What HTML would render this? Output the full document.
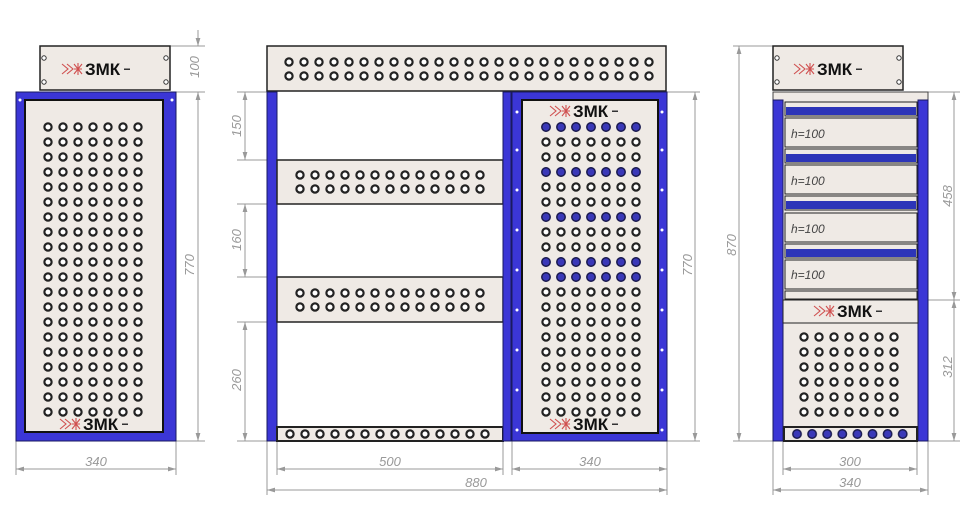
<!DOCTYPE html>
<html><head><meta charset="utf-8"><style>html,body{margin:0;padding:0;background:#fff}svg{display:block}</style></head><body>
<svg width="970" height="528" viewBox="0 0 970 528" xmlns="http://www.w3.org/2000/svg" font-family="Liberation Sans, sans-serif">
<defs>
<marker id="ar" viewBox="0 0 10 6" refX="10" refY="3" markerWidth="8" markerHeight="5" orient="auto-start-reverse" markerUnits="userSpaceOnUse"><path d="M0,0 L10,3 L0,6 z" fill="#999"/></marker>
<g id="hole"><circle r="3.6" fill="#fff" stroke="#222" stroke-width="2.2"/></g>
<g id="bhole"><circle r="4.2" fill="#3a38b8" stroke="#1a1a50" stroke-width="1.5"/></g>
<pattern id="pL" x="40.5" y="119.5" width="15" height="15" patternUnits="userSpaceOnUse"><use href="#hole" x="7.5" y="7.5"/></pattern>
<pattern id="pR" x="538.5" y="119.5" width="15" height="15" patternUnits="userSpaceOnUse"><use href="#hole" x="7.5" y="7.5"/></pattern>
<pattern id="pRb" x="538.5" y="119.5" width="15" height="15" patternUnits="userSpaceOnUse"><use href="#bhole" x="7.5" y="7.5"/></pattern>
<pattern id="pC" x="796.5" y="329.5" width="15" height="15" patternUnits="userSpaceOnUse"><use href="#hole" x="7.5" y="7.5"/></pattern>
<pattern id="pT" x="281.5" y="54.5" width="15" height="14" patternUnits="userSpaceOnUse"><use href="#hole" x="7.5" y="7.5"/></pattern>
<pattern id="pS" x="292.5" y="167.5" width="15" height="14" patternUnits="userSpaceOnUse"><use href="#hole" x="7.5" y="7.5"/></pattern>
<pattern id="pS2" x="292.5" y="285.5" width="15" height="14" patternUnits="userSpaceOnUse"><use href="#hole" x="7.5" y="7.5"/></pattern>
<pattern id="pB" x="282.5" y="426.5" width="15" height="15" patternUnits="userSpaceOnUse"><use href="#hole" x="7.5" y="7.5"/></pattern>
<pattern id="pBb" x="789.5" y="426.5" width="15.1" height="15" patternUnits="userSpaceOnUse"><use href="#bhole" x="7.5" y="7.5"/></pattern>
<g id="logo">
<path d="M-28,-5 L-22,0 L-28,5 M-23,-5 L-17,0 L-23,5 M-16,-5 L-8,5 M-16,5 L-8,-5 M-16,0 L-8,0 M-12,-6 L-12,6" stroke="#d05050" stroke-width="1.1" fill="none"/>
<text x="-5" y="6" font-size="17" font-weight="bold" fill="#111">ЗМК</text>
<rect x="34" y="-0.5" width="6" height="1.5" fill="#333"/>
</g>
</defs>
<g stroke="#999" stroke-width="1" fill="none">
<line x1="170" y1="46" x2="205" y2="46"/><line x1="176" y1="92" x2="205" y2="92"/><line x1="176" y1="441" x2="205" y2="441"/>
<line x1="198" y1="30" x2="198" y2="46" marker-end="url(#ar)"/><line x1="198" y1="92" x2="198" y2="441" marker-start="url(#ar)" marker-end="url(#ar)"/>
<line x1="16" y1="441" x2="16" y2="475"/><line x1="176" y1="441" x2="176" y2="475"/><line x1="16" y1="469" x2="176" y2="469" marker-start="url(#ar)" marker-end="url(#ar)"/>
<line x1="237" y1="92" x2="267" y2="92"/><line x1="237" y1="160" x2="277" y2="160"/><line x1="237" y1="204" x2="277" y2="204"/><line x1="237" y1="277" x2="277" y2="277"/><line x1="237" y1="322" x2="277" y2="322"/><line x1="237" y1="441" x2="267" y2="441"/>
<line x1="245" y1="92" x2="245" y2="160" marker-start="url(#ar)" marker-end="url(#ar)"/><line x1="245" y1="204" x2="245" y2="277" marker-start="url(#ar)" marker-end="url(#ar)"/><line x1="245" y1="322" x2="245" y2="441" marker-start="url(#ar)" marker-end="url(#ar)"/>
<line x1="277" y1="441" x2="277" y2="475"/><line x1="503" y1="441" x2="503" y2="475"/><line x1="277" y1="469" x2="503" y2="469" marker-start="url(#ar)" marker-end="url(#ar)"/>
<line x1="512" y1="441" x2="512" y2="475"/><line x1="667" y1="441" x2="667" y2="495"/><line x1="512" y1="469" x2="667" y2="469" marker-start="url(#ar)" marker-end="url(#ar)"/>
<line x1="267" y1="441" x2="267" y2="495"/><line x1="267" y1="490" x2="667" y2="490" marker-start="url(#ar)" marker-end="url(#ar)"/>
<line x1="667" y1="92" x2="700" y2="92"/><line x1="667" y1="441" x2="700" y2="441"/><line x1="695" y1="92" x2="695" y2="441" marker-start="url(#ar)" marker-end="url(#ar)"/>
<line x1="733" y1="46" x2="773" y2="46"/><line x1="733" y1="441" x2="773" y2="441"/><line x1="739" y1="46" x2="739" y2="441" marker-start="url(#ar)" marker-end="url(#ar)"/>
<line x1="928" y1="92" x2="960" y2="92"/><line x1="918" y1="300" x2="960" y2="300"/><line x1="928" y1="441" x2="960" y2="441"/>
<line x1="954" y1="92" x2="954" y2="300" marker-start="url(#ar)" marker-end="url(#ar)"/><line x1="954" y1="300" x2="954" y2="441" marker-start="url(#ar)" marker-end="url(#ar)"/>
<line x1="783" y1="441" x2="783" y2="475"/><line x1="917" y1="441" x2="917" y2="475"/><line x1="783" y1="469" x2="917" y2="469" marker-start="url(#ar)" marker-end="url(#ar)"/>
<line x1="773" y1="441" x2="773" y2="495"/><line x1="928" y1="441" x2="928" y2="495"/><line x1="773" y1="490" x2="928" y2="490" marker-start="url(#ar)" marker-end="url(#ar)"/>
</g>
<g fill="#999" font-size="13" font-style="italic">
<text x="190" y="72" transform="rotate(-90 190 67)" text-anchor="middle" dy="4">100</text>
<text x="190" y="265" transform="rotate(-90 190 265)" text-anchor="middle" dy="4">770</text>
<text x="96" y="466" text-anchor="middle">340</text>
<text x="237" y="126" transform="rotate(-90 237 126)" text-anchor="middle" dy="4">150</text>
<text x="237" y="240" transform="rotate(-90 237 240)" text-anchor="middle" dy="4">160</text>
<text x="237" y="380" transform="rotate(-90 237 380)" text-anchor="middle" dy="4">260</text>
<text x="390" y="466" text-anchor="middle">500</text>
<text x="590" y="466" text-anchor="middle">340</text>
<text x="476" y="487" text-anchor="middle">880</text>
<text x="688" y="265" transform="rotate(-90 688 265)" text-anchor="middle" dy="4">770</text>
<text x="732" y="245" transform="rotate(-90 732 245)" text-anchor="middle" dy="4">870</text>
<text x="948" y="196" transform="rotate(-90 948 196)" text-anchor="middle" dy="4">458</text>
<text x="948" y="367" transform="rotate(-90 948 367)" text-anchor="middle" dy="4">312</text>
<text x="850" y="466" text-anchor="middle">300</text>
<text x="850" y="487" text-anchor="middle">340</text>
</g>

<rect x="40" y="46" width="130" height="44" fill="#efeae5" stroke="#222" stroke-width="1.5"/>
<circle cx="44" cy="58" r="2.2" fill="#fff" stroke="#333"/><circle cx="44" cy="82" r="2.2" fill="#fff" stroke="#333"/><circle cx="166" cy="58" r="2.2" fill="#fff" stroke="#333"/><circle cx="166" cy="82" r="2.2" fill="#fff" stroke="#333"/>
<use href="#logo" x="90" y="69"/>
<rect x="16" y="92" width="160" height="349" fill="#3b36d6" stroke="#1a1a60"/>
<rect x="25" y="100" width="138" height="332" fill="#efeae5" stroke="#111" stroke-width="2"/>
<rect x="40.5" y="119.5" width="105" height="300" fill="url(#pL)"/>
<use href="#logo" x="88" y="424"/>

<rect x="267" y="46" width="399" height="45" fill="#efeae5" stroke="#222" stroke-width="1.5"/>
<rect x="281.5" y="54.5" width="375" height="28" fill="url(#pT)"/>
<rect x="267" y="92" width="10" height="349" fill="#3b36d6" stroke="#1a1a60"/>
<rect x="277" y="160" width="226" height="44" fill="#efeae5" stroke="#222" stroke-width="1.5"/>
<rect x="292.5" y="167.5" width="195" height="28" fill="url(#pS)"/>
<rect x="277" y="277" width="226" height="45" fill="#efeae5" stroke="#222" stroke-width="1.5"/>
<rect x="292.5" y="285.5" width="195" height="28" fill="url(#pS2)"/>
<rect x="277" y="427" width="226" height="14" fill="#efeae5" stroke="#222" stroke-width="2"/>
<rect x="282.5" y="426.5" width="210" height="15" fill="url(#pB)"/>
<rect x="503" y="92" width="8" height="349" fill="#3b36d6" stroke="#1a1a60"/>
<rect x="512" y="92" width="155" height="349" fill="#3b36d6" stroke="#1a1a60"/>
<rect x="522" y="100" width="136" height="333" fill="#efeae5" stroke="#111" stroke-width="2"/>
<rect x="538.5" y="119.5" width="105" height="300" fill="url(#pR)"/>
<rect x="538.5" y="119.5" width="105" height="15" fill="url(#pRb)"/>
<rect x="538.5" y="164.5" width="105" height="15" fill="url(#pRb)"/>
<rect x="538.5" y="209.5" width="105" height="15" fill="url(#pRb)"/>
<rect x="538.5" y="254.5" width="105" height="30" fill="url(#pRb)"/>
<use href="#logo" x="578" y="111"/>
<use href="#logo" x="578" y="424"/>
<g fill="#fff"><circle cx="517" cy="112" r="1.5"/><circle cx="517" cy="150" r="1.5"/><circle cx="517" cy="190" r="1.5"/><circle cx="517" cy="230" r="1.5"/><circle cx="517" cy="270" r="1.5"/><circle cx="517" cy="310" r="1.5"/><circle cx="517" cy="350" r="1.5"/><circle cx="517" cy="390" r="1.5"/><circle cx="517" cy="430" r="1.5"/>
<circle cx="662" cy="112" r="1.5"/><circle cx="662" cy="150" r="1.5"/><circle cx="662" cy="190" r="1.5"/><circle cx="662" cy="230" r="1.5"/><circle cx="662" cy="270" r="1.5"/><circle cx="662" cy="310" r="1.5"/><circle cx="662" cy="350" r="1.5"/><circle cx="662" cy="390" r="1.5"/><circle cx="662" cy="430" r="1.5"/>
<circle cx="20" cy="100" r="1.5"/><circle cx="172" cy="100" r="1.5"/></g>

<rect x="773" y="46" width="130" height="44" fill="#efeae5" stroke="#222" stroke-width="1.5"/>
<circle cx="777" cy="58" r="2.2" fill="#fff" stroke="#333"/><circle cx="777" cy="82" r="2.2" fill="#fff" stroke="#333"/><circle cx="899" cy="58" r="2.2" fill="#fff" stroke="#333"/><circle cx="899" cy="82" r="2.2" fill="#fff" stroke="#333"/>
<use href="#logo" x="822" y="69"/>
<rect x="773" y="92" width="155" height="349" fill="#efeae5" stroke="#444"/>
<rect x="773" y="100" width="10" height="341" fill="#3b36d6" stroke="#1a1a60"/>
<rect x="918" y="100" width="10" height="341" fill="#3b36d6" stroke="#1a1a60"/>
<g>
<rect x="785" y="102" width="132" height="14" fill="#efeae5" stroke="#222"/><rect x="786" y="107" width="130" height="8" fill="#2d35b8"/>
<rect x="785" y="118" width="132" height="29" fill="#efeae5" stroke="#222"/>
<rect x="785" y="149" width="132" height="14" fill="#efeae5" stroke="#222"/><rect x="786" y="154" width="130" height="8" fill="#2d35b8"/>
<rect x="785" y="165" width="132" height="29" fill="#efeae5" stroke="#222"/>
<rect x="785" y="196" width="132" height="14" fill="#efeae5" stroke="#222"/><rect x="786" y="201" width="130" height="8" fill="#2d35b8"/>
<rect x="785" y="213" width="132" height="29" fill="#efeae5" stroke="#222"/>
<rect x="785" y="244" width="132" height="14" fill="#efeae5" stroke="#222"/><rect x="786" y="249" width="130" height="8" fill="#2d35b8"/>
<rect x="785" y="260" width="132" height="29" fill="#efeae5" stroke="#222"/>
<rect x="785" y="291" width="132" height="8" fill="#efeae5" stroke="#222"/>
</g>
<g fill="#444" font-size="12" font-style="italic">
<text x="791" y="138">h=100</text><text x="791" y="185">h=100</text><text x="791" y="233">h=100</text><text x="791" y="279">h=100</text>
</g>
<rect x="783" y="300" width="135" height="23" fill="#efeae5" stroke="#222"/>
<use href="#logo" x="842" y="311"/>
<rect x="796.5" y="329.5" width="105" height="90" fill="url(#pC)"/>
<rect x="784" y="427" width="133" height="14" fill="#efeae5" stroke="#222" stroke-width="2"/>
<rect x="789.5" y="426.5" width="121" height="15" fill="url(#pBb)"/>
</svg>
</body></html>
